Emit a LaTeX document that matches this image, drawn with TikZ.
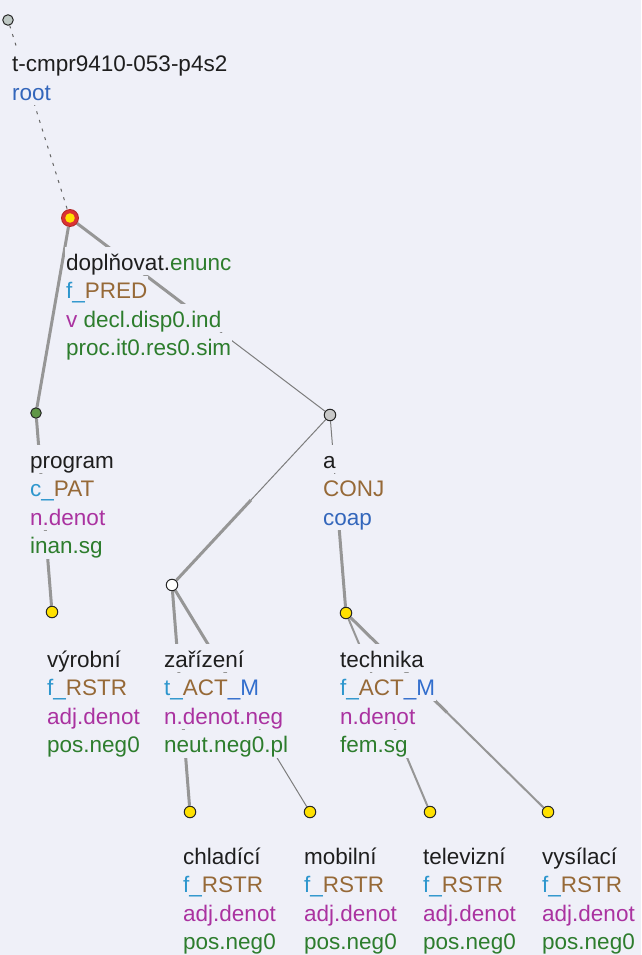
\documentclass[tikz,border=0pt]{standalone}
\usepackage{fontspec}
\setmainfont{Liberation Sans}
\usetikzlibrary{calc}

\definecolor{bg}{RGB}{239,240,248}
\definecolor{txtblack}{RGB}{30,30,30}
\definecolor{lemmablue}{RGB}{51,102,187}
\definecolor{tfablue}{RGB}{45,150,205}
\definecolor{funbrown}{RGB}{150,105,55}
\definecolor{subblue}{RGB}{50,110,205}
\definecolor{gramgreen}{RGB}{45,125,45}
\definecolor{sempurple}{RGB}{170,50,160}
\definecolor{edgegrey}{RGB}{150,150,150}
\definecolor{thingrey}{RGB}{125,125,125}
\definecolor{rootgrey}{RGB}{190,200,196}
\definecolor{coordgrey}{RGB}{200,200,200}
\definecolor{nodegreen}{RGB}{95,150,70}
\definecolor{nodeyellow}{RGB}{255,225,0}
\definecolor{predred}{RGB}{220,50,50}

\newcommand\cBlue[1]{\textcolor{lemmablue}{#1}}
\newcommand\cTfa[1]{\textcolor{tfablue}{#1}}
\newcommand\cFun[1]{\textcolor{funbrown}{#1}}
\newcommand\cSub[1]{\textcolor{subblue}{#1}}
\newcommand\cGram[1]{\textcolor{gramgreen}{#1}}
\newcommand\cSem[1]{\textcolor{sempurple}{#1}}

\pgfdeclarelayer{edges}
\pgfdeclarelayer{labels}
\pgfsetlayers{edges,labels,main}

\tikzset{
  tnode/.style={circle, inner sep=0pt, minimum size=11.5pt, draw=black!85, line width=1pt},
  lbl/.style={anchor=base west, fill=bg, inner xsep=1pt, inner ysep=0pt,
    text height=23pt, text depth=5pt, font=\fontsize{22.5}{27}\selectfont, text=txtblack},
  edgethick/.style={draw=edgegrey, line width=3pt},
  edgemid/.style={draw=edgegrey, line width=2pt},
  edgethin/.style={draw=thingrey, line width=1pt},
  edgedash/.style={draw=thingrey!80!black, line width=1pt, dash pattern=on 3pt off 6pt},
}

\begin{document}
\begin{tikzpicture}[x=1pt,y=-1pt]
\useasboundingbox (0,0) rectangle (641,955);

% tree nodes
\node[tnode, fill=rootgrey, minimum size=10.5pt] (root) at (8,20) {};
\node[circle, inner sep=0pt, minimum size=17pt, fill=predred, draw=predred!80!black, line width=0.8pt] (dopl) at (70,218) {};
\fill[nodeyellow] (dopl.center) circle (4.8pt);
\node[tnode, fill=nodegreen, minimum size=10.5pt] (prog) at (36,413) {};
\node[tnode, fill=coordgrey] (conj) at (330,415) {};
\node[tnode, fill=nodeyellow] (vyr) at (52,612) {};
\node[tnode, fill=white] (zar) at (172,585) {};
\node[tnode, fill=nodeyellow] (tech) at (346,613) {};
\node[tnode, fill=nodeyellow] (chl) at (190,812) {};
\node[tnode, fill=nodeyellow] (mob) at (310,812) {};
\node[tnode, fill=nodeyellow] (tel) at (430,812) {};
\node[tnode, fill=nodeyellow] (vys) at (548,812) {};

% background and edges
\begin{pgfonlayer}{edges}
\fill[bg] (0,0) rectangle (641,955);
\draw[edgedash] (root) -- (dopl);
\draw[edgethick] (dopl) -- (prog);
\draw[edgethick] (dopl) -- ($(dopl)!0.5!(conj)$);
\draw[edgethin] ($(dopl)!0.5!(conj)$) -- (conj);
\draw[edgethick] (prog) -- (vyr);
\draw[edgethin] (conj) -- ($(conj)!0.5!(zar)$);
\draw[edgethick] ($(conj)!0.5!(zar)$) -- (zar);
\draw[edgethin] (conj) -- ($(conj)!0.5!(tech)$);
\draw[edgethick] ($(conj)!0.5!(tech)$) -- (tech);
\draw[edgethick] (zar) -- (chl);
\draw[edgethick] (zar) -- ($(zar)!0.5!(mob)$);
\draw[edgethin] ($(zar)!0.5!(mob)$) -- (mob);
\draw[edgemid] (tech) -- (tel);
\draw[edgethick] (tech) -- ($(tech)!0.5!(vys)$);
\draw[edgemid] ($(tech)!0.5!(vys)$) -- (vys);
\end{pgfonlayer}

% node labels
\begin{pgfonlayer}{labels}
\node[lbl] (root-a) at (11,72) {t-cmpr9410-053-p4s2};
\node[lbl] (root-b) at (11,100.5) {\cBlue{root}};

\node[lbl] (dopl-a) at (65,270) {doplňovat.\cGram{enunc}};
\node[lbl] (dopl-b) at (65,298.5) {\cTfa{f\_}\cFun{PRED}};
\node[lbl] (dopl-c) at (65,327) {\cSem{v} \cGram{decl.disp0.ind}};
\node[lbl] (dopl-d) at (65,355.5) {\cGram{proc.it0.res0.sim}};

\node[lbl] (prog-a) at (29,468) {program};
\node[lbl] (prog-b) at (29,496.5) {\cTfa{c\_}\cFun{PAT}};
\node[lbl] (prog-c) at (29,525) {\cSem{n.denot}};
\node[lbl] (prog-d) at (29,553.5) {\cGram{inan.sg}};

\node[lbl] (conj-a) at (322,468) {a};
\node[lbl] (conj-b) at (322,496.5) {\cFun{CONJ}};
\node[lbl] (conj-c) at (322,525) {\cBlue{coap}};

\node[lbl] (vyr-a) at (46,667) {výrobní};
\node[lbl] (vyr-b) at (46,695.5) {\cTfa{f\_}\cFun{RSTR}};
\node[lbl] (vyr-c) at (46,724) {\cSem{adj.denot}};
\node[lbl] (vyr-d) at (46,752.5) {\cGram{pos.neg0}};

\node[lbl] (zar-a) at (163,667) {zařízení};
\node[lbl] (zar-b) at (163,695.5) {\cTfa{t\_}\cFun{ACT}\cSub{\_M}};
\node[lbl] (zar-c) at (163,724) {\cSem{n.denot.neg}};
\node[lbl] (zar-d) at (163,752.5) {\cGram{neut.neg0.pl}};

\node[lbl] (tech-a) at (339,667) {technika};
\node[lbl] (tech-b) at (339,695.5) {\cTfa{f\_}\cFun{ACT}\cSub{\_M}};
\node[lbl] (tech-c) at (339,724) {\cSem{n.denot}};
\node[lbl] (tech-d) at (339,752.5) {\cGram{fem.sg}};

\node[lbl] (chl-a) at (182,864) {chladící};
\node[lbl] (chl-b) at (182,892.5) {\cTfa{f\_}\cFun{RSTR}};
\node[lbl] (chl-c) at (182,921) {\cSem{adj.denot}};
\node[lbl] (chl-d) at (182,949.5) {\cGram{pos.neg0}};

\node[lbl] (mob-a) at (303,864) {mobilní};
\node[lbl] (mob-b) at (303,892.5) {\cTfa{f\_}\cFun{RSTR}};
\node[lbl] (mob-c) at (303,921) {\cSem{adj.denot}};
\node[lbl] (mob-d) at (303,949.5) {\cGram{pos.neg0}};

\node[lbl] (tel-a) at (422,864) {televizní};
\node[lbl] (tel-b) at (422,892.5) {\cTfa{f\_}\cFun{RSTR}};
\node[lbl] (tel-c) at (422,921) {\cSem{adj.denot}};
\node[lbl] (tel-d) at (422,949.5) {\cGram{pos.neg0}};

\node[lbl] (vys-a) at (541,864) {vysílací};
\node[lbl] (vys-b) at (541,892.5) {\cTfa{f\_}\cFun{RSTR}};
\node[lbl] (vys-c) at (541,921) {\cSem{adj.denot}};
\node[lbl] (vys-d) at (541,949.5) {\cGram{pos.neg0}};
\end{pgfonlayer}
\end{tikzpicture}
\end{document}
